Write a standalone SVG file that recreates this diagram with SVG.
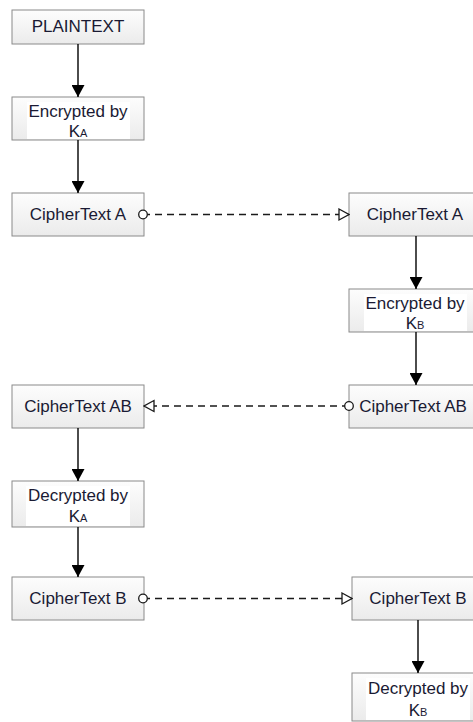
<svg xmlns="http://www.w3.org/2000/svg" width="473" height="722" viewBox="0 0 473 722">
  <style>
    .box rect.frame { fill: url(#boxFill); stroke: #8a8a8a; stroke-width: 1; }
    .box rect.bg { fill: #ffffff; }
    .box text { font-family: "Liberation Sans", Arial, sans-serif; font-size: 17px; fill: #1a1a33; text-anchor: middle; }
    .sub { font-size: 11px; }
    .flow { stroke: #000; stroke-width: 1.4; fill: none; marker-end: url(#solidHead); }
    .msg { stroke: #1a1a1a; stroke-width: 1.4; fill: none; stroke-dasharray: 7 5; marker-start: url(#openCircle); marker-end: url(#openTri); }
  </style>
  <defs>
    <linearGradient id="boxFill" x1="0" y1="0" x2="0" y2="1">
      <stop offset="0" stop-color="#fdfdfd"/>
      <stop offset="1" stop-color="#ebebeb"/>
    </linearGradient>
    <marker id="solidHead" viewBox="0 0 12 13" refX="12" refY="6.5" markerWidth="12" markerHeight="13" markerUnits="userSpaceOnUse" orient="auto">
      <path d="M0,0 L12,6.5 L0,13 Z" fill="#000"/>
    </marker>
    <marker id="openTri" viewBox="0 0 12 14" refX="11" refY="7" markerWidth="12" markerHeight="14" markerUnits="userSpaceOnUse" orient="auto">
      <path d="M1,1.5 L11,7 L1,12.5 Z" fill="#fff" stroke="#1a1a1a" stroke-width="1.3"/>
    </marker>
    <marker id="openCircle" viewBox="0 0 12 12" refX="6" refY="6" markerWidth="12" markerHeight="12" markerUnits="userSpaceOnUse" orient="auto">
      <circle cx="6" cy="6" r="4.3" fill="#fff" stroke="#1a1a1a" stroke-width="1.3"/>
    </marker>
  </defs>

  <!-- nodes -->
  <g id="plaintext" class="box">
    <rect class="frame" x="12" y="10" width="132" height="34"/>
    <text x="78" y="32">PLAINTEXT</text>
  </g>
  <g id="encryptedA" class="box">
    <rect class="frame" x="12" y="97" width="132" height="43"/>
    <rect class="bg" x="27" y="102" width="103" height="37"/>
    <text x="78" y="117">Encrypted by</text>
    <text x="78" y="137">K<tspan class="sub">A</tspan></text>
  </g>
  <g id="cipherA-left" class="box">
    <rect class="frame" x="12" y="193" width="132" height="43"/>
    <text x="78" y="220">CipherText A</text>
  </g>
  <g id="cipherA-right" class="box">
    <rect class="frame" x="349" y="193" width="132" height="43"/>
    <text x="415" y="220">CipherText A</text>
  </g>
  <g id="encryptedB" class="box">
    <rect class="frame" x="349" y="289" width="132" height="43"/>
    <rect class="bg" x="364" y="294" width="103" height="37"/>
    <text x="415" y="309">Encrypted by</text>
    <text x="415" y="329">K<tspan class="sub">B</tspan></text>
  </g>
  <g id="cipherAB-right" class="box">
    <rect class="frame" x="349" y="385" width="132" height="43"/>
    <text x="413" y="412">CipherText AB</text>
  </g>
  <g id="cipherAB-left" class="box">
    <rect class="frame" x="12" y="385" width="132" height="43"/>
    <text x="78" y="412">CipherText AB</text>
  </g>
  <g id="decryptedA" class="box">
    <rect class="frame" x="12" y="481" width="132" height="46"/>
    <rect class="bg" x="26" y="486" width="104" height="40"/>
    <text x="78" y="501">Decrypted by</text>
    <text x="78" y="522">K<tspan class="sub">A</tspan></text>
  </g>
  <g id="cipherB-left" class="box">
    <rect class="frame" x="12" y="577" width="132" height="43"/>
    <text x="78" y="604">CipherText B</text>
  </g>
  <g id="cipherB-right" class="box">
    <rect class="frame" x="352" y="577" width="132" height="43"/>
    <text x="418" y="604">CipherText B</text>
  </g>
  <g id="decryptedB" class="box">
    <rect class="frame" x="352" y="673" width="132" height="48"/>
    <rect class="bg" x="366" y="678" width="104" height="42"/>
    <text x="418" y="694">Decrypted by</text>
    <text x="418" y="716">K<tspan class="sub">B</tspan></text>
  </g>

  <!-- connectors, drawn over the boxes so the end symbols stay whole -->
  <g id="connectors">
    <line class="flow" x1="78" y1="44" x2="78" y2="97"/>
    <line class="flow" x1="78" y1="140" x2="78" y2="193"/>
    <line class="msg" x1="143" y1="214.5" x2="349" y2="214.5"/>
    <line class="flow" x1="416" y1="236" x2="416" y2="289"/>
    <line class="flow" x1="416" y1="332" x2="416" y2="385"/>
    <line class="msg" x1="349" y1="406" x2="144" y2="406"/>
    <line class="flow" x1="78" y1="428" x2="78" y2="481"/>
    <line class="flow" x1="78" y1="527" x2="78" y2="577"/>
    <line class="msg" x1="143" y1="598.5" x2="352" y2="598.5"/>
    <line class="flow" x1="418" y1="620" x2="418" y2="673"/>
  </g>
</svg>
